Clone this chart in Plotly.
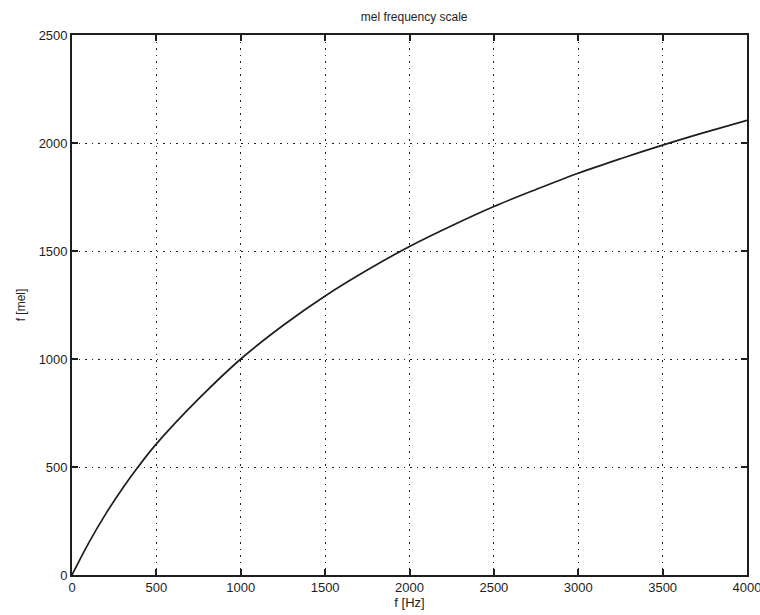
import plotly.graph_objects as go

# Frequency in Hz and corresponding mel values
freq_hz = [0, 100, 200, 300, 400, 500, 750, 1000, 1250, 1500, 1750,
           2000, 2250, 2500, 2750, 3000, 3250, 3500, 3750, 4000]
mel = [0, 150, 283, 402, 509, 607, 815, 1000, 1155, 1292, 1412,
       1521, 1617, 1706, 1785, 1860, 1927, 1990, 2049, 2105]

x_ticks = [0, 500, 1000, 1500, 2000, 2500, 3000, 3500, 4000]
y_ticks = [0, 500, 1000, 1500, 2000, 2500]

ink = "#1e1e1e"
font = "Liberation Sans, Arial, sans-serif"

fig = go.Figure(go.Scatter(x=freq_hz, y=mel, mode="lines",
                           line=dict(color=ink, width=1.7, shape="spline"),
                           showlegend=False, hoverinfo="skip"))

axis_common = dict(showline=True, linecolor=ink, linewidth=1.7, mirror="ticks",
                   ticks="inside", ticklen=6, tickwidth=1.6, tickcolor=ink,
                   showgrid=True, gridcolor=ink, gridwidth=1.2, griddash="1.5px,5px",
                   zeroline=False, ticklabeloverflow="allow", automargin=False,
                   tickfont=dict(family=font, size=13, color=ink))

fig.update_xaxes(range=[0, 4000], tickvals=x_ticks, ticktext=[str(v) for v in x_ticks],
                 title=dict(text="f [Hz]", font=dict(family=font, size=13, color=ink), standoff=1),
                 **axis_common)
fig.update_yaxes(range=[0, 2500], tickvals=y_ticks, ticktext=[str(v) for v in y_ticks],
                 title=dict(text="f [mel]", font=dict(family=font, size=12, color=ink), standoff=10),
                 **axis_common)

fig.update_layout(
    width=760, height=615,
    margin=dict(l=72, r=13, t=35, b=40),
    paper_bgcolor="white", plot_bgcolor="white",
    title=dict(text="mel frequency scale", x=0.545, xanchor="center", y=0.972, yanchor="middle",
               font=dict(family=font, size=12, color=ink)),
)

fig.write_html("out.html")
